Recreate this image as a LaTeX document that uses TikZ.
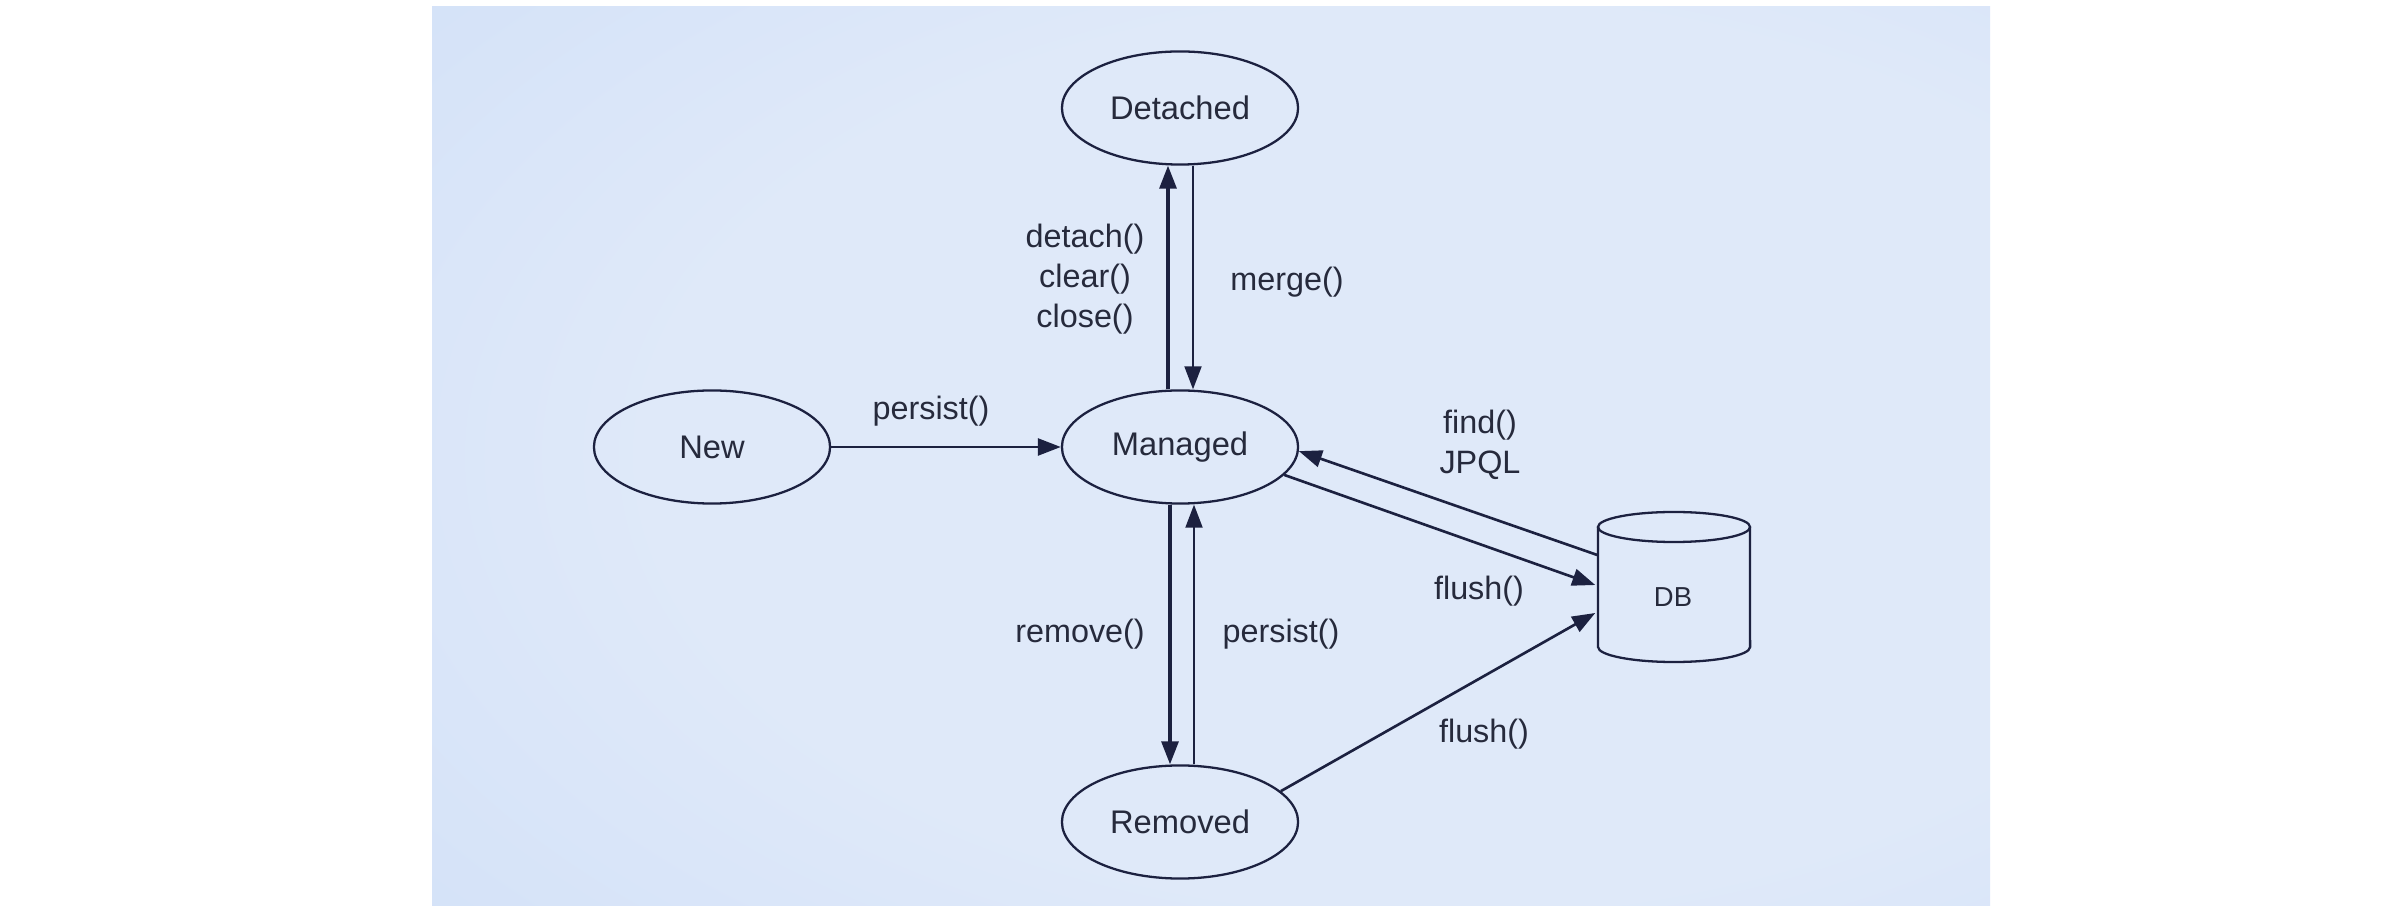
\documentclass[tikz,border=0pt]{standalone}
\usepackage{fontspec}
\setmainfont{Liberation Sans}
\usetikzlibrary{arrows.meta,calc,shapes.geometric}
\definecolor{ink}{HTML}{1C2140}
\definecolor{txt}{HTML}{262A3C}
\definecolor{bgin}{HTML}{DFE9F9}
\definecolor{bgmid}{HTML}{D1E0F8}
\definecolor{bgout}{HTML}{BCD1F5}
\pgfdeclareradialshading{bgshade}{\pgfpoint{10bp}{0bp}}{color(0bp)=(bgin); color(25bp)=(bgin); color(45bp)=(bgmid); color(75bp)=(bgout); color(90bp)=(bgout)}
\tikzset{
  state/.style={ellipse, draw=ink, line width=0.65pt, minimum width=2.36cm, minimum height=1.13cm, inner sep=0pt, text=txt, font=\fontsize{9.3pt}{11pt}\selectfont},
  lbl/.style={text=txt, font=\fontsize{9.2pt}{11.4pt}\selectfont, align=center, inner sep=0pt},
  tip/.style={-{Triangle[length=0.23cm,width=0.17cm]}},
  thickarrow/.style={tip, draw=ink, line width=0.9pt},
  thinarrow/.style={tip, draw=ink, line width=0.55pt},
  midarrow/.style={tip, draw=ink, line width=0.75pt},
}
\begin{document}
\begin{tikzpicture}[x=0.01cm,y=0.01cm]
\useasboundingbox (0,0) rectangle (2400,-910);
\fill[white] (0,0) rectangle (2400,-910);
\shade[shading=bgshade] (432,-7) rectangle (1990,-905);

% states
\node[state] (new) at (712,-447) {New};
\node[state] (managed) at (1180,-447) {Managed};
\node[state] (detached) at (1180,-108) {Detached};
\node[state] (removed) at (1180,-822) {Removed};

% database cylinder
\node[minimum width=1.52cm, minimum height=1.50cm, inner sep=0pt] (db) at (1674,-587) {};
\draw[ink, line width=0.65pt] (1598,-527) -- (1598,-647)
   arc[start angle=180, end angle=360, x radius=0.76cm, y radius=0.15cm] -- (1750,-527);
\draw[ink, line width=0.65pt] (1674,-527) ellipse [x radius=0.76cm, y radius=0.15cm];
\node[text=txt, font=\fontsize{7.8pt}{9pt}\selectfont, inner sep=0pt] (dbtext) at (1673,-597) {DB};

% connectors
\draw[midarrow] (new.east) -- (managed.west);
\draw[thickarrow] ($(managed.north)+(-12,0)$) -- ($(detached.south)+(-12,0)$);
\draw[thinarrow] ($(detached.south)+(13,0)$) -- ($(managed.north)+(13,0)$);
\draw[thickarrow] ($(managed.south)+(-10,0)$) -- ($(removed.north)+(-10,0)$);
\draw[thinarrow] ($(removed.north)+(14,0)$) -- ($(managed.south)+(14,0)$);
\draw[midarrow] ($(db.west)+(0,32)$) -- (managed.-2);
\draw[midarrow] (managed.-15) -- ($(db.west)+(-2,2)$);
\draw[midarrow] (removed.17) -- ($(db.west)+(-2,-26)$);

% labels
\node[lbl] (l1) at (931,-411) {persist()};
\node[lbl] (l2) at (1085,-279) {detach()\\clear()\\close()};
\node[lbl] (l3) at (1287,-282) {merge()};
\node[lbl] (l4) at (1080,-634) {remove()};
\node[lbl] (l5) at (1281,-634) {persist()};
\node[lbl] (l6) at (1480,-445) {find()\\JPQL};
\node[lbl] (l7) at (1479,-591) {flush()};
\node[lbl] (l8) at (1484,-734) {flush()};
\end{tikzpicture}
\end{document}
